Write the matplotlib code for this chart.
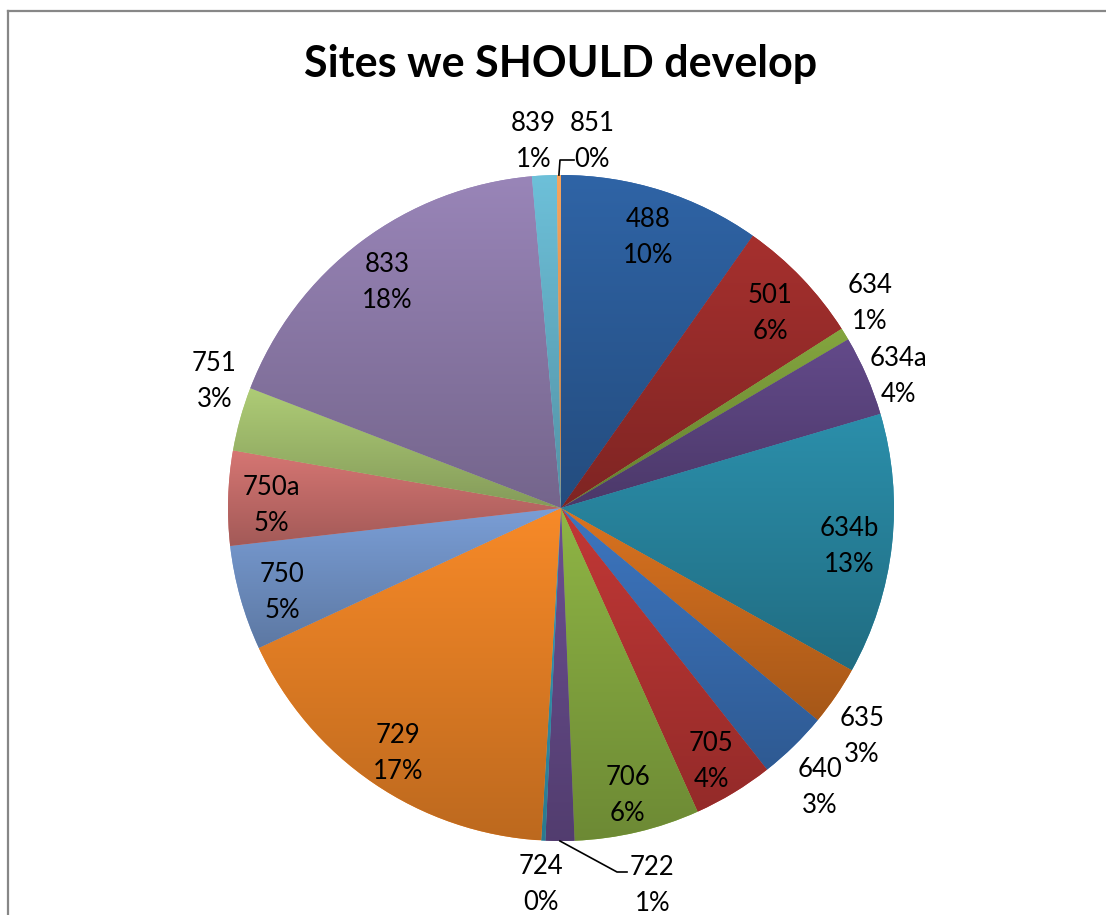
import numpy as np
import matplotlib
matplotlib.use('Agg')
import matplotlib.pyplot as plt
from matplotlib.lines import Line2D
from matplotlib.colors import to_rgb

# chart data (clockwise from 12 o'clock)
sites = ['488', '501', '634', '634a', '634b', '635', '640', '705', '706',
         '722', '724', '729', '750', '750a', '751', '833', '839', '851']
values = [9.8, 6.2, 0.6, 3.9, 12.7, 2.9, 3.4, 3.9, 6.1,
          1.4, 0.2, 17.2, 5.1, 4.6, 3.1, 17.8, 1.2, 0.2]
top_colors = ['#2F64A6', '#A6302E', '#84A63F', '#634A8A', '#2B8FAB', '#DA7320',
              '#3D76C0', '#C23836', '#8FB545', '#6C5092', '#38A0BC', '#F88A28',
              '#7A9ED6', '#D67673', '#AECC76', '#9985B8', '#6DC0D9', '#F8A55E']

# labels outside the pie: (angle clockwise from top, distance in px)
outside = {'634': (56.1, 372), '634a': (68.2, 363), '635': (126.8, 376),
           '640': (136.9, 379), '722': (166.3, 385), '724': (183.1, 374),
           '751': (290.5, 370), '839': (355.7, 371), '851': (4.8, 371)}

W, H = 1106, 915
plt.rcParams['font.family'] = ['Lato', 'DejaVu Sans']
fig = plt.figure(figsize=(W / 100, H / 100), dpi=100)
ax = fig.add_axes([0, 0, 1, 1])

cx, cy, R = 561, H - 508, 333
wedges, _ = ax.pie(values, colors=top_colors, startangle=90, counterclock=False,
                   radius=R, center=(cx, cy), wedgeprops=dict(linewidth=0))

# vertical gradient per slice, lighter on top
for w, c in zip(wedges, top_colors):
  top = np.array(to_rgb(c))
  bot = top * 0.76
  t = np.linspace(0, 1, 256)[:, None]
  grad = (bot[None, :] * (1 - t) + top[None, :] * t)[:, None, :]
  bb = w.get_path().get_extents(w.get_patch_transform())
  im = ax.imshow(grad, extent=(bb.x0, bb.x1, bb.y0, bb.y1), origin='lower',
                 aspect='auto', interpolation='bilinear', zorder=1.5)
  im.set_clip_path(w)

total = sum(values)
for w, s, v in zip(wedges, sites, values):
  pct = '%d%%' % int(round(100.0 * v / total))
  txt = s + '\n' + pct
  if s in outside:
    a, r = outside[s]
    a = np.radians(a)
    tx, ty = cx + r * np.sin(a), cy + r * np.cos(a) - 3
  else:
    mid = np.radians((w.theta1 + w.theta2) / 2.0)
    tx, ty = cx + 0.87 * R * np.cos(mid), cy + 0.87 * R * np.sin(mid) - 6
  ax.text(tx, ty, txt, ha='center', va='center', fontsize=18.5,
          linespacing=1.55, color='black', zorder=5)

# leader lines for the two thin slices
def leader(site, pts):
  w = wedges[sites.index(site)]
  mid = np.radians((w.theta1 + w.theta2) / 2.0)
  ex, ey = cx + R * np.cos(mid), cy + R * np.sin(mid)
  xs = [ex] + [p[0] for p in pts]
  ys = [ey] + [p[1] for p in pts]
  ax.plot(xs, ys, color='black', lw=1.2, zorder=4)

leader('851', [(cx - 1, H - 160), (574, H - 160)])
leader('722', [(617, H - 872), (627, H - 872)])

ax.set_xlim(0, W)
ax.set_ylim(0, H)
ax.set_aspect('auto')
ax.axis('off')

fig.text(561 / W, 1 - 64 / H, 'Sites we SHOULD develop', ha='center', va='center',
         fontsize=31, fontweight='bold')

# chart area border (only top and left visible in the crop)
fig.add_artist(Line2D([7.5 / W, 1], [1 - 10.5 / H, 1 - 10.5 / H], color='#878787', lw=1.6))
fig.add_artist(Line2D([7.5 / W, 7.5 / W], [0, 1 - 10.5 / H], color='#878787', lw=1.6))

plt.savefig('out.png', dpi=100)
